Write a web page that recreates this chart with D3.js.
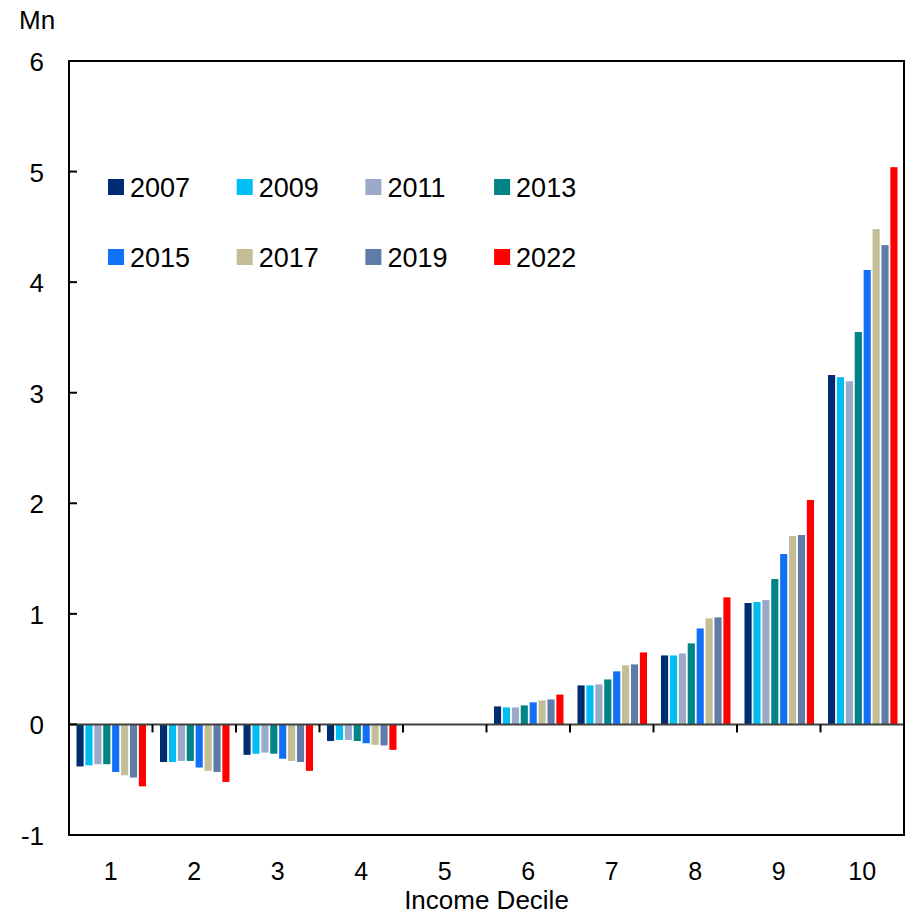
<!DOCTYPE html>
<html>
<head>
<meta charset="utf-8">
<script src="https://cdn.jsdelivr.net/npm/d3@7"></script>
<style>
  body { margin: 0; background: #fff; overflow: hidden; }
  svg { font-family: "Liberation Sans", Arial, sans-serif; display: block; }
</style>
</head>
<body>
<svg id="chart" width="906" height="915"></svg>
<script>
// data
const deciles = ['1', '2', '3', '4', '5', '6', '7', '8', '9', '10'];
const years = ['2007', '2009', '2011', '2013', '2015', '2017', '2019', '2022'];
const colors = ['#002d72', '#00bef2', '#9aaac8', '#008488', '#1270f7', '#c4be96', '#5f7ba8', '#ff0000'];

const v2007 = [-0.38, -0.34, -0.275, -0.15, 0, 0.163, 0.353, 0.624, 1.098, 3.16];
const v2009 = [-0.37, -0.34, -0.265, -0.14, 0, 0.154, 0.353, 0.624, 1.107, 3.14];
const v2011 = [-0.36, -0.33, -0.255, -0.14, 0, 0.154, 0.362, 0.642, 1.125, 3.104];
const v2013 = [-0.36, -0.33, -0.265, -0.15, 0, 0.172, 0.407, 0.733, 1.315, 3.549];
const v2015 = [-0.43, -0.39, -0.31, -0.17, 0, 0.200, 0.480, 0.868, 1.541, 4.11];
const v2017 = [-0.46, -0.42, -0.33, -0.185, 0, 0.217, 0.534, 0.959, 1.704, 4.48];
const v2019 = [-0.48, -0.43, -0.34, -0.19, 0, 0.226, 0.543, 0.968, 1.713, 4.335];
const v2022 = [-0.56, -0.52, -0.42, -0.23, 0, 0.270, 0.651, 1.149, 2.03, 5.04];
const series = [v2007, v2009, v2011, v2013, v2015, v2017, v2019, v2022];

const yTicks = [-1, 0, 1, 2, 3, 4, 5, 6];

const svg = d3.select('#chart');
const plotL = 69, plotR = 904, plotT = 61, plotB = 835;

const x0 = d3.scaleBand().domain(deciles).range([plotL, plotR]).padding(0);
const x1 = d3.scaleBand().domain(years)
    .range([7.5, x0.bandwidth() - 6.5])
    .paddingInner(0.2).paddingOuter(0);
const y = d3.scaleLinear().domain([-1, 6]).range([plotB, plotT]);

// bars
years.forEach((yr, i) => {
    svg.append('g')
        .selectAll('rect')
        .data(series[i].map((v, j) => ({ d: deciles[j], v })).filter(p => p.v !== 0))
        .enter()
        .append('rect')
        .attr('x', p => x0(p.d) + x1(yr))
        .attr('width', x1.bandwidth())
        .attr('y', p => y(Math.max(0, p.v)))
        .attr('height', p => Math.abs(y(p.v) - y(0)))
        .attr('fill', colors[i]);
});

// zero line with category ticks
svg.append('line')
    .attr('x1', plotL).attr('x2', plotR)
    .attr('y1', y(0)).attr('y2', y(0))
    .attr('stroke', '#404040').attr('stroke-width', 2);

svg.append('g')
    .selectAll('line')
    .data(deciles.slice(1))
    .enter()
    .append('line')
    .attr('x1', d => x0(d)).attr('x2', d => x0(d))
    .attr('y1', y(0)).attr('y2', y(0) + 8)
    .attr('stroke', '#000').attr('stroke-width', 2);

// y axis ticks and labels
const yAxis = svg.append('g');
yAxis.selectAll('line')
    .data(yTicks)
    .enter()
    .append('line')
    .attr('x1', plotL).attr('x2', plotL + 8)
    .attr('y1', d => y(d)).attr('y2', d => y(d))
    .attr('stroke', '#000').attr('stroke-width', 2);
yAxis.selectAll('text')
    .data(yTicks)
    .enter()
    .append('text')
    .attr('x', 44)
    .attr('y', d => y(d) + 10)
    .attr('text-anchor', 'end')
    .attr('font-size', 26)
    .text(d => d);

// frame
svg.append('rect')
    .attr('x', plotL).attr('y', plotT)
    .attr('width', plotR - plotL).attr('height', plotB - plotT)
    .attr('fill', 'none').attr('stroke', '#000').attr('stroke-width', 2);

// x labels
svg.append('g')
    .selectAll('text')
    .data(deciles)
    .enter()
    .append('text')
    .attr('x', d => x0(d) + x0.bandwidth() / 2)
    .attr('y', 880)
    .attr('text-anchor', 'middle')
    .attr('font-size', 25)
    .text(d => d);

svg.append('text')
    .attr('x', (plotL + plotR) / 2)
    .attr('y', 909)
    .attr('text-anchor', 'middle')
    .attr('font-size', 26)
    .text('Income Decile');

svg.append('text')
    .attr('x', 19).attr('y', 29)
    .attr('font-size', 26)
    .text('Mn');

// legend
const legend = svg.append('g')
    .selectAll('g')
    .data(years)
    .enter()
    .append('g')
    .attr('transform', (d, i) => `translate(${108 + (i % 4) * 128.7},${179 + Math.floor(i / 4) * 70})`);
legend.append('rect')
    .attr('width', 16).attr('height', 16)
    .attr('fill', (d, i) => colors[i]);
legend.append('text')
    .attr('x', 22).attr('y', 18)
    .attr('font-size', 27)
    .text(d => d);
</script>
</body>
</html>
